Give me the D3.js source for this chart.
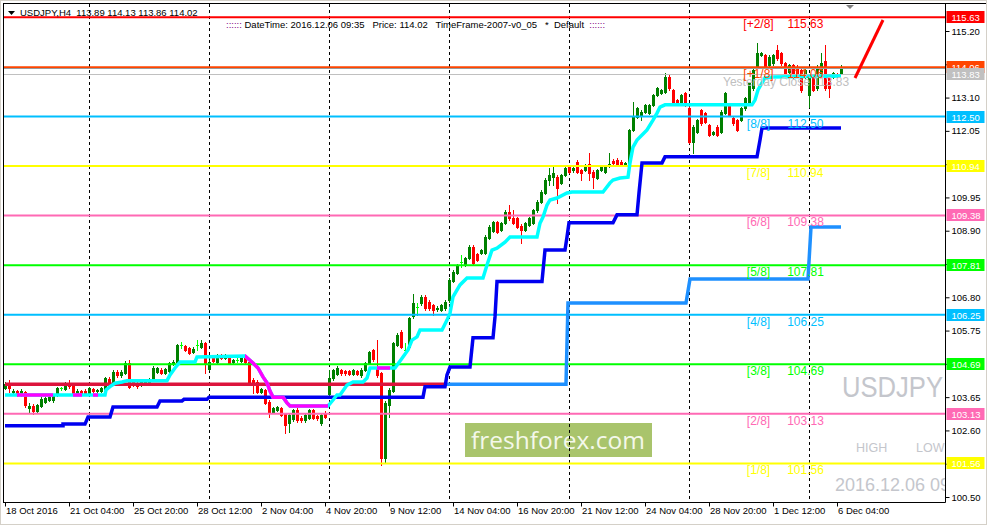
<!DOCTYPE html>
<html><head><meta charset="utf-8">
<script src="https://cdn.jsdelivr.net/npm/d3@7"></script>
<style>html,body{margin:0;padding:0;background:#fff;overflow:hidden}svg{display:block}</style>
</head><body><svg id="c" width="987" height="525"></svg>
<script>
// ---------- DATA ----------
const symbol = "USDJPY";
const opens = [
103.95,104.09,103.80,103.84,103.76,103.80,103.30,103.38,103.20,103.38,
103.51,103.56,103.55,103.72,103.93,103.90,104.08,104.03,103.76,103.85,
103.85,103.78,103.90,103.83,103.83,103.90,104.22,104.12,104.45,104.35,
104.42,104.72,104.15,104.10,104.05,104.10,104.14,104.24,104.45,104.52,
104.42,104.47,104.70,104.77,105.29,105.26,105.19,105.08,105.29,105.24,
105.35,104.55,104.90,104.75,104.95,104.90,104.88,104.75,104.82,104.80,
104.93,104.77,104.19,104.14,103.82,103.88,103.50,103.19,103.25,103.30,
103.12,102.82,102.95,103.25,103.00,102.93,103.00,103.24,103.05,102.82,
103.16,103.75,104.25,104.38,104.50,104.48,104.47,104.38,104.48,104.35,
104.51,104.72,105.14,104.61,104.40,101.72,103.40,103.85,105.30,105.71,
105.15,105.24,106.20,106.50,106.61,106.82,106.66,106.56,106.42,106.40,
106.45,106.70,107.32,107.58,107.90,107.82,108.03,108.40,108.15,108.19,
108.19,108.68,108.90,109.18,108.92,109.13,109.50,109.29,109.29,109.05,
108.92,109.08,109.15,109.55,109.82,110.10,110.50,110.61,110.61,110.40,
110.66,110.92,110.80,111.08,110.82,110.82,111.02,110.76,110.56,110.82,
110.75,110.95,111.10,111.13,111.08,111.00,110.97,112.08,112.50,112.55,
112.66,112.61,112.87,113.18,113.24,113.29,113.76,113.34,113.02,112.92,
113.24,112.76,111.71,112.02,112.71,112.61,112.24,111.95,112.18,112.02,
112.61,112.82,112.45,112.39,112.39,112.76,112.97,113.39,114.08,114.44,
114.44,114.13,114.18,114.60,114.50,114.18,113.92,114.13,114.08,113.97,
113.76,113.18,113.76,113.39,113.87,114.24,113.81,113.76,113.85,113.89];
const highs = [
104.12,104.20,103.90,103.88,103.90,103.85,103.45,103.42,103.44,103.64,
103.66,103.70,103.76,103.96,103.98,104.14,104.20,104.06,103.90,103.88,
103.90,103.97,103.95,103.92,103.98,104.28,104.27,104.50,104.50,104.50,
104.78,104.82,104.22,104.14,104.18,104.20,104.25,104.62,104.60,104.58,
104.58,104.76,104.82,105.34,105.40,105.30,105.22,105.22,105.45,105.45,
105.40,104.82,104.98,105.02,105.00,105.00,104.92,104.86,104.88,104.92,
104.98,104.80,104.24,104.18,103.95,103.92,103.56,103.34,103.38,103.34,
103.16,103.14,103.28,103.30,103.04,103.14,103.28,103.28,103.10,103.14,
103.20,104.50,104.55,104.62,104.55,104.52,104.50,104.54,104.52,104.56,
104.76,105.12,105.18,105.45,104.45,103.52,103.94,105.40,105.66,105.76,
105.35,106.18,106.90,106.61,106.86,106.86,106.70,106.60,106.52,106.60,
106.70,107.40,107.66,107.86,108.13,108.08,108.45,108.45,108.20,108.33,
108.76,109.08,109.22,109.22,109.18,109.55,109.71,109.55,109.33,109.10,
109.18,109.33,109.60,109.86,110.18,110.55,110.87,110.92,110.66,110.70,
110.92,110.97,110.93,111.12,110.86,111.02,111.34,110.80,110.86,110.95,
110.96,111.34,111.15,111.18,111.12,111.08,112.12,112.97,112.80,112.70,
112.91,112.91,113.22,113.43,113.38,113.87,113.80,113.38,113.06,113.22,
113.28,112.80,112.22,112.43,112.75,112.65,112.28,112.06,112.22,112.70,
113.28,112.86,112.49,112.43,112.80,113.12,113.59,114.01,114.81,114.55,
114.48,114.43,114.48,114.76,114.54,114.22,114.17,114.17,114.12,114.01,
114.01,113.80,113.80,114.12,114.50,114.76,113.85,113.91,113.89,114.13];
const lows = [
103.90,103.80,103.74,103.70,103.70,103.35,103.18,103.12,103.16,103.34,
103.48,103.52,103.50,103.68,103.88,103.86,103.95,103.74,103.72,103.72,
103.74,103.74,103.80,103.80,103.80,103.86,104.06,104.08,104.30,104.30,
104.38,103.93,104.00,103.93,104.00,104.05,104.10,104.20,104.40,104.38,
104.38,104.44,104.66,104.72,105.20,105.10,105.00,105.04,105.15,105.20,
104.40,104.50,104.75,104.70,104.85,104.86,104.68,104.70,104.76,104.76,
104.74,104.10,103.77,103.78,103.78,103.42,103.03,103.15,103.20,103.05,
102.51,102.56,102.90,102.88,102.88,102.88,102.96,102.95,102.94,102.78,
102.98,103.72,104.20,104.34,104.36,104.36,104.34,104.34,104.34,104.30,
104.48,104.68,104.80,104.30,101.51,101.60,103.03,103.80,105.26,105.19,
104.98,105.20,106.16,106.24,106.56,106.40,106.40,106.24,106.38,106.36,
106.40,106.66,107.28,107.54,107.77,107.78,108.00,107.82,107.94,108.15,
108.15,108.64,108.86,108.82,108.88,109.10,109.25,109.10,108.98,108.50,
108.88,109.04,109.10,109.50,109.78,110.06,110.34,110.34,109.76,110.36,
110.62,110.72,110.76,110.72,110.50,110.78,110.50,110.24,110.52,110.78,
110.71,110.91,111.00,110.98,110.93,110.96,110.93,112.04,112.46,112.40,
112.62,112.57,112.83,113.14,113.20,113.25,113.35,112.88,112.88,112.88,
112.83,111.67,111.34,111.98,112.25,112.30,111.88,111.91,111.88,111.98,
112.57,112.51,112.25,112.04,112.35,112.72,112.93,113.35,114.04,114.40,
114.04,114.09,114.14,114.30,114.14,113.83,113.88,113.72,113.77,113.29,
113.72,112.81,113.30,113.35,113.83,113.34,113.13,113.72,113.75,113.86];
const closes = [
104.08,103.94,103.84,103.76,103.83,103.40,103.38,103.20,103.40,103.60,
103.61,103.66,103.72,103.93,103.93,104.03,104.00,103.78,103.85,103.76,
103.78,103.93,103.83,103.88,103.93,104.24,104.10,104.45,104.35,104.45,
104.72,103.98,104.08,104.00,104.12,104.15,104.20,104.56,104.56,104.42,
104.54,104.72,104.77,105.29,105.29,105.15,105.05,105.17,105.29,105.36,
104.72,104.77,104.80,104.98,104.90,104.95,104.72,104.82,104.82,104.88,
104.77,104.14,104.03,103.82,103.90,103.46,103.19,103.30,103.33,103.09,
102.77,103.09,103.24,102.93,102.93,103.09,103.24,103.00,102.98,103.09,
103.02,104.25,104.50,104.56,104.40,104.40,104.38,104.50,104.38,104.52,
104.72,105.08,104.85,104.35,101.72,103.46,103.88,105.35,105.61,105.24,
105.15,106.14,106.61,106.50,106.82,106.45,106.45,106.40,106.47,106.56,
106.66,107.35,107.61,107.82,107.90,108.03,108.40,107.87,107.98,108.29,
108.71,109.03,109.18,108.87,109.13,109.50,109.29,109.13,109.03,108.92,
109.13,109.29,109.55,109.82,110.13,110.50,110.66,110.71,110.24,110.66,
110.87,110.76,110.88,110.76,110.71,110.97,110.71,110.61,110.82,110.90,
110.92,111.02,111.05,111.02,110.97,111.03,112.08,112.50,112.76,112.66,
112.87,112.87,113.18,113.39,113.34,113.76,113.39,112.92,112.92,113.18,
112.87,111.71,112.18,112.39,112.29,112.34,111.92,112.02,111.92,112.66,
113.24,112.55,112.29,112.08,112.76,113.08,113.55,113.97,114.50,114.50,
114.08,114.39,114.44,114.34,114.18,113.87,114.13,113.76,113.81,113.34,
113.97,113.76,113.34,114.08,114.18,113.39,113.39,113.87,113.79,114.02];

const timeLabels = ["18 Oct 2016","21 Oct 04:00","25 Oct 20:00","28 Oct 12:00","2 Nov 04:00","4 Nov 20:00","9 Nov 12:00","14 Nov 04:00","16 Nov 20:00","21 Nov 12:00","24 Nov 04:00","28 Nov 20:00","1 Dec 12:00","6 Dec 04:00"];
const timeLabelBars = [0,16,32,48,64,80,96,112,128,144,160,176,192,208];
const weekStartBars = [21,51,81,111,141,171,201];
const priceTicks = [100.50,101.55,102.60,103.65,104.70,105.75,106.80,107.85,108.90,109.95,111.00,112.05,113.10,114.15,115.20];

const mmLevels = [115.63,114.06,112.50,110.94,109.38,107.81,106.25,104.69,103.13,101.56];
const mmNames  = ["[+2/8]","[+1/8]","[8/8]","[7/8]","[6/8]","[5/8]","[4/8]","[3/8]","[2/8]","[1/8]"];
const mmColors = ["#ff0000","#ff4500","#00bfff","#ffff00","#ff69b4","#00ff00","#00bfff","#00ff00","#ff69b4","#ffff00"];
const yesterdayClose = 113.83;
const bidPrice = 114.02;
const ohlcHeader = [113.89,114.13,113.86,114.02];

// trailing line (cyan when up, magenta when down)
const trailBars = [0,25,25.25,26.25,27.5,29.25,30.5,40.5,41.25,42.5,43.75,47.5,48,60,62,63.25,64.5,65.5,66.25,67,69.5,70.5,71.25,80.75,82,83,83.75,85.5,87,89.5,90.5,91.25,97.5,100.75,101.75,103,103.75,109.25,110.5,111.25,112,113.75,115.5,119.5,120.5,121.75,123,125,126.25,133,133.75,134.5,135.5,136.25,138,140.5,141.75,149.5,151.25,152,153.75,155.75,156.25,157,158,159.25,160.5,162,163,163.75,165,186.75,187.5,188.25,189.25,190,192,209];
const trailValues = [103.72,103.72,103.88,103.98,104.09,104.13,104.17,104.17,104.35,104.57,104.76,104.76,104.92,104.95,104.73,104.57,104.29,104.10,103.84,103.65,103.65,103.47,103.37,103.37,103.56,103.72,103.72,104.03,104.13,104.13,104.25,104.57,104.57,105.14,105.45,105.55,105.77,105.77,106.08,106.30,106.81,107.19,107.41,107.41,107.82,108.29,108.35,108.54,108.70,108.70,109.14,109.33,109.71,109.87,109.93,110.09,110.12,110.12,110.41,110.50,110.56,110.59,111.04,111.54,111.76,111.92,112.08,112.39,112.61,112.80,112.87,112.87,113.02,113.34,113.56,113.72,113.75,113.78];
const trailDownStart = [3,17,22,60,93];
const trailDownEnd   = [12,19.25,23.25,80.75,96.25];

// blue step line
const stepBars = [0,14.5,14.5,20,20.75,26.25,27,38,38.75,44.25,44.75,50.5,51,104.5,105,110,110.5,111.25,116.25,117,122,122.5,123,134.25,135,140,140.5,141,152,153,158,158.5,159.25,164.25,165,188,188.75,189.25,209];
const stepValues = [102.75,102.75,102.80,102.80,103.02,103.02,103.34,103.34,103.53,103.53,103.58,103.58,103.65,103.65,103.98,103.98,104.35,104.60,104.60,105.52,105.52,106.18,107.30,107.30,108.29,108.29,108.70,109.15,109.15,109.40,109.40,110.09,111.04,111.04,111.23,111.23,111.76,112.14,112.14];

// second step line (crimson while down, dodger blue when up)
const step2Bars = [0,140.25,140.75,170.25,171.25,200.75,201.5,209];
const step2Values = [104.06,104.06,106.62,106.62,107.38,107.38,109.02,109.02];
const step2DownEnd = 110.5;

// ---------- DRAW ----------
const svg = d3.select("#c");
const W = 987, H = 525;
const L = 4, R = 945.5, T = 4, B = 502.5;
const x = d3.scaleLinear().domain([0,209]).range([5,841]);
const y = d3.scaleLinear().domain([100.5,115.2]).range([497,31]);
const FONT = "'Liberation Sans', Arial, sans-serif";

svg.append("rect").attr("width",W).attr("height",H).attr("fill","#ffffff");
svg.append("rect").attr("x",0.5).attr("y",0.5).attr("width",W-1).attr("height",H-1).attr("fill","none").attr("stroke","#d4d0c8");

const defs = svg.append("defs");
defs.append("clipPath").attr("id","plot").append("rect").attr("x",L).attr("y",T).attr("width",R-L).attr("height",B-T);

const plot = svg.append("g").attr("clip-path","url(#plot)");

// watermark texts
plot.append("text").attr("x",842).attr("y",397).attr("font-family",FONT).attr("font-size",29)
  .attr("textLength",101).attr("lengthAdjust","spacingAndGlyphs").attr("fill","#c4c6cc").text(symbol);
plot.append("text").attr("x",856).attr("y",452).attr("font-family",FONT).attr("font-size",12.5).attr("fill","#c4c6cc").text("HIGH");
plot.append("text").attr("x",916).attr("y",452).attr("font-family",FONT).attr("font-size",12.5).attr("fill","#c4c6cc").text("LOW");
plot.append("text").attr("x",835).attr("y",491).attr("font-family",FONT).attr("font-size",18).attr("fill","#c4c6cc").text("2016.12.06 09:35");

// logo
plot.append("rect").attr("x",465).attr("y",423).attr("width",187).attr("height",34).attr("fill","#a9c46c");
plot.append("text").attr("x",558).attr("y",449).attr("text-anchor","middle").attr("font-family","'Open Sans', 'Noto Sans', sans-serif")
  .attr("font-size",24.5).attr("fill","#f4f8ea").text("freshforex.com");

// vertical grid (week starts)
plot.selectAll("line.grid").data(weekStartBars).join("line")
  .attr("x1",d=>Math.round(x(d))+0.5).attr("x2",d=>Math.round(x(d))+0.5)
  .attr("y1",T).attr("y2",B).attr("stroke","#000").attr("stroke-width",1).attr("stroke-dasharray","3,3");

// candles
const bars = d3.range(opens.length).map(i=>({i,o:opens[i],h:highs[i],l:lows[i],c:closes[i]}));
const col = d => d.c>d.o ? "#008000" : (d.c<d.o ? "#ff0000" : "#00ff00");
const cg = plot.append("g").attr("shape-rendering","crispEdges");
cg.selectAll("line.w").data(bars).join("line")
  .attr("x1",d=>Math.round(x(d.i))+0.5).attr("x2",d=>Math.round(x(d.i))+0.5)
  .attr("y1",d=>Math.round(y(d.h))).attr("y2",d=>Math.round(y(d.l))+1)
  .attr("stroke",col).attr("stroke-width",1);
cg.selectAll("rect.b").data(bars.filter(d=>d.c!==d.o)).join("rect")
  .attr("x",d=>Math.round(x(d.i))-1).attr("width",3)
  .attr("y",d=>Math.round(y(Math.max(d.o,d.c))))
  .attr("height",d=>Math.max(1,Math.round(y(Math.min(d.o,d.c)))-Math.round(y(Math.max(d.o,d.c)))+1))
  .attr("fill",col);
cg.selectAll("line.dj").data(bars.filter(d=>d.c===d.o)).join("line")
  .attr("x1",d=>Math.round(x(d.i))-1).attr("x2",d=>Math.round(x(d.i))+2)
  .attr("y1",d=>Math.round(y(d.c))+0.5).attr("y2",d=>Math.round(y(d.c))+0.5)
  .attr("stroke","#00ff00");

// Murrey math horizontal levels
plot.selectAll("line.mm").data(mmLevels).join("line")
  .attr("x1",L).attr("x2",R).attr("y1",d=>y(d)).attr("y2",d=>y(d))
  .attr("stroke",(d,i)=>mmColors[i]).attr("stroke-width",2);
plot.append("line").attr("x1",L).attr("x2",R).attr("y1",Math.round(y(bidPrice))+0.5).attr("y2",Math.round(y(bidPrice))+0.5).attr("stroke","#9a9a9a");
plot.append("line").attr("x1",L).attr("x2",R).attr("y1",Math.round(y(yesterdayClose))+0.5).attr("y2",Math.round(y(yesterdayClose))+0.5).attr("stroke","#c0c0c0");

// indicator lines
const trailPts = trailBars.map((b,k)=>[b,trailValues[k]]);
const stepPts = stepBars.map((b,k)=>[b,stepValues[k]]);
const step2Pts = step2Bars.map((b,k)=>[b,step2Values[k]]);
const ln = d3.line().x(d=>x(d[0])).y(d=>y(d[1]));

defs.append("clipPath").attr("id","s2down").append("rect").attr("x",0).attr("y",0).attr("width",x(step2DownEnd)).attr("height",H);
defs.append("clipPath").attr("id","s2up").append("rect").attr("x",x(step2DownEnd)).attr("y",0).attr("width",W).attr("height",H);
plot.append("path").attr("d",ln(step2Pts)).attr("fill","none").attr("stroke","#1e90ff").attr("stroke-width",3.5).attr("clip-path","url(#s2up)");
plot.append("path").attr("d",ln(step2Pts)).attr("fill","none").attr("stroke","#dc143c").attr("stroke-width",3.5).attr("clip-path","url(#s2down)");

plot.append("path").attr("d",ln(stepPts)).attr("fill","none").attr("stroke","#0000f0").attr("stroke-width",3.5);

const cd = defs.append("clipPath").attr("id","tdown");
trailDownStart.forEach((s,k)=>cd.append("rect").attr("x",x(s)).attr("y",0).attr("width",x(trailDownEnd[k])-x(s)).attr("height",H));
plot.append("path").attr("d",ln(trailPts)).attr("fill","none").attr("stroke","#00ffff").attr("stroke-width",3.5);
plot.append("path").attr("d",ln(trailPts)).attr("fill","none").attr("stroke","#ff00ff").attr("stroke-width",3.5).attr("clip-path","url(#tdown)");

// red projection line
plot.append("line").attr("x1",855).attr("y1",78).attr("x2",883).attr("y2",20).attr("stroke","#ff0000").attr("stroke-width",3);

// level labels
const lbl = plot.append("g").attr("font-family",FONT).attr("font-size",12);
lbl.append("text").attr("x",723).attr("y",y(yesterdayClose)+11.5).attr("fill","#c0c0c0").text("Yesterday Close "+yesterdayClose.toFixed(2));
mmLevels.forEach((v,i)=>{
  lbl.append("text").attr("x",758.5).attr("y",y(v)+11).attr("text-anchor","middle").attr("fill",mmColors[i]).text(mmNames[i]);
  lbl.append("text").attr("x",805.5).attr("y",y(v)+11).attr("text-anchor","middle").attr("fill",mmColors[i]).text(v.toFixed(2));
});

// chart shift marker
svg.append("path").attr("d","M846,5 L854,5 L850,9 Z").attr("fill","#808080");

// frame
svg.append("line").attr("x1",3.5).attr("x2",3.5).attr("y1",3).attr("y2",B).attr("stroke","#000");
svg.append("line").attr("x1",3).attr("x2",W-1).attr("y1",3.5).attr("y2",3.5).attr("stroke","#000");
svg.append("line").attr("x1",R).attr("x2",R).attr("y1",3).attr("y2",B).attr("stroke","#000");
svg.append("line").attr("x1",3).attr("x2",R).attr("y1",B).attr("y2",B).attr("stroke","#000");

// price boxes on axis
const boxVals = mmLevels.slice(0,2).concat([yesterdayClose]).concat(mmLevels.slice(2));
const boxCols = mmColors.slice(0,2).concat(["#c0c0c0"]).concat(mmColors.slice(2));

// price axis (tick labels hidden where a price box covers them)
const covered = v => boxVals.some(b => Math.abs(y(b)-y(v)) < 11);
const yAxis = d3.axisRight(y).tickValues(priceTicks).tickSize(4).tickFormat(d=>covered(d)?"":d3.format(".2f")(d));
const ya = svg.append("g").attr("transform",`translate(${R},0)`).call(yAxis);
ya.select(".domain").remove();
ya.selectAll("text").attr("font-family",FONT).attr("font-size",9.5).attr("fill","#000").attr("x",6);
ya.selectAll("line").attr("stroke","#000");

const bx = svg.append("g");
boxVals.forEach((v,i)=>{
  bx.append("rect").attr("x",R+1).attr("y",Math.round(y(v))-6).attr("width",38).attr("height",12).attr("fill",boxCols[i]);
  bx.append("text").attr("x",R+6).attr("y",Math.round(y(v))+3.5).attr("font-family",FONT).attr("font-size",9.5).attr("fill","#fff").text(v.toFixed(2));
});

// time axis
const tx = svg.append("g");
timeLabelBars.forEach((b,k)=>{
  const xx = Math.round(x(b))+0.5;
  tx.append("line").attr("x1",xx).attr("x2",xx).attr("y1",B).attr("y2",B+4).attr("stroke","#000");
  tx.append("text").attr("x",xx+0.5).attr("y",514).attr("font-family",FONT).attr("font-size",9.5).attr("fill","#000").text(timeLabels[k]);
});

// header
svg.append("path").attr("d","M8,11 L15,11 L11.5,15 Z").attr("fill","#000");
svg.append("text").attr("x",20).attr("y",16).attr("font-family",FONT).attr("font-size",9.5).attr("fill","#000")
  .attr("xml:space","preserve").text(symbol+",H4  "+ohlcHeader.map(d=>d.toFixed(2)).join(" "));
const h2 = svg.append("text").attr("x",226).attr("y",28).attr("font-family",FONT).attr("font-size",9.5).attr("fill","#000").attr("xml:space","preserve");
h2.append("tspan").attr("fill","#800080").text(":::::: ");
h2.append("tspan").text("DateTime: 2016.12.06 09:35   Price: "+bidPrice.toFixed(2)+"   TimeFrame-2007-v0_05   *  Default  ");
h2.append("tspan").attr("fill","#800080").text("::::::");
</script></body></html>
